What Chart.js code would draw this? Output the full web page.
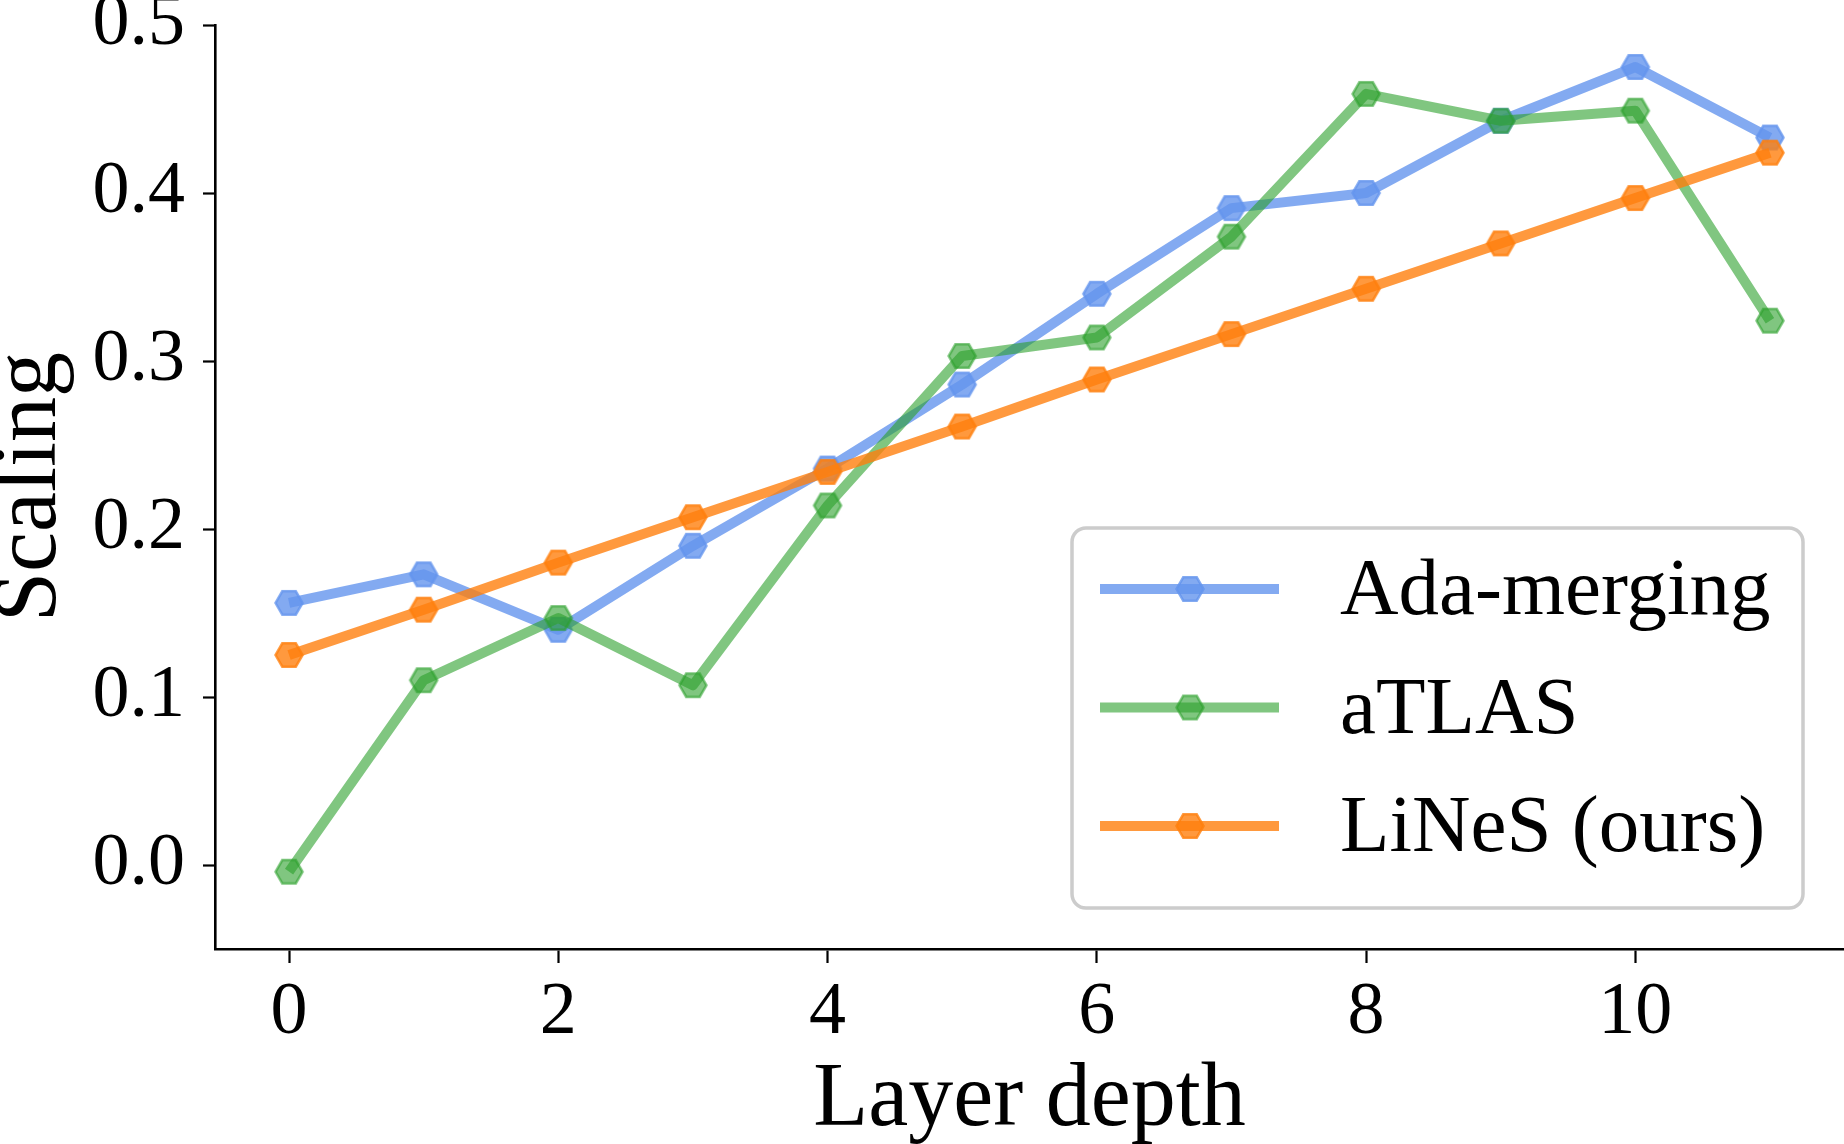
<!DOCTYPE html>
<html>
<head>
<meta charset="utf-8">
<style>
  html, body { margin: 0; padding: 0; background: #fff; overflow: hidden; }
  #c { display: block; }
</style>
<script src="https://cdn.jsdelivr.net/npm/chart.js@4/dist/chart.umd.min.js"></script>
</head>
<body>
<canvas id="c" width="1844" height="1144"></canvas>
<script>
// ---- data ----
const layers = [0, 1, 2, 3, 4, 5, 6, 7, 8, 9, 10, 11];
const adaMerging = [0.156, 0.173, 0.140, 0.190, 0.236, 0.286, 0.340, 0.391, 0.400, 0.443, 0.475, 0.433];
const atlas      = [-0.004, 0.110, 0.147, 0.107, 0.214, 0.303, 0.314, 0.374, 0.459, 0.443, 0.449, 0.324];
const lines      = [0.125, 0.152, 0.180, 0.207, 0.234, 0.261, 0.289, 0.316, 0.343, 0.370, 0.397, 0.424];
const seriesNames = ['Ada-merging', 'aTLAS', 'LiNeS (ours)'];
const xTickValues = [0, 2, 4, 6, 8, 10];
const yTickValues = [0.0, 0.1, 0.2, 0.3, 0.4, 0.5];
const xTitle = 'Layer depth';
const yTitle = 'Scaling';

const FONT = "'Liberation Serif', 'DejaVu Serif', serif";
Chart.defaults.font.family = FONT;
Chart.defaults.color = '#000';

const colors = [
  'rgba(100,149,237,0.8)',
  'rgba(44,160,44,0.6)',
  'rgba(255,127,14,0.8)'
];

function hexMarker(color) {
  const r = 13.5, lw = 2.5;
  const size = Math.ceil(2 * (r + lw) + 2);
  const c = document.createElement('canvas');
  c.width = size; c.height = size;
  const g = c.getContext('2d');
  g.translate(size / 2, size / 2);
  g.beginPath();
  for (let i = 0; i < 6; i++) {
    const a = i * Math.PI / 3;
    const px = r * Math.cos(a), py = r * Math.sin(a);
    if (i === 0) g.moveTo(px, py); else g.lineTo(px, py);
  }
  g.closePath();
  g.fillStyle = color;
  g.fill();
  g.lineWidth = lw;
  g.lineJoin = 'miter';
  g.strokeStyle = color;
  g.stroke();
  return c;
}
const markers = colors.map(hexMarker);

function toPoints(vals) { return layers.map((l, i) => ({ x: l, y: vals[i] })); }
const seriesValues = [adaMerging, atlas, lines];

const datasets = seriesValues.map((vals, i) => ({
  label: seriesNames[i],
  data: toPoints(vals),
  borderColor: colors[i],
  backgroundColor: colors[i],
  borderWidth: 10,
  borderJoinStyle: 'round',
  borderCapStyle: 'butt',
  tension: 0,
  fill: false,
  pointStyle: markers[i],
  pointRadius: 13,
  pointHoverRadius: 13,
  order: 3 - i
}));

const legendBox = {
  id: 'legendBox',
  afterDraw(chart) {
    const ctx = chart.ctx;
    const x0 = 1072, y0 = 528, x1 = 1803, y1 = 908, rr = 14;
    ctx.save();
    ctx.beginPath();
    ctx.moveTo(x0 + rr, y0);
    ctx.arcTo(x1, y0, x1, y1, rr);
    ctx.arcTo(x1, y1, x0, y1, rr);
    ctx.arcTo(x0, y1, x0, y0, rr);
    ctx.arcTo(x0, y0, x1, y0, rr);
    ctx.closePath();
    ctx.fillStyle = 'rgba(255,255,255,0.85)';
    ctx.fill();
    ctx.lineWidth = 3.5;
    ctx.strokeStyle = 'rgba(204,204,204,1)';
    ctx.stroke();
    const rows = [589, 707.5, 826];
    chart.data.datasets.forEach((ds, i) => {
      const y = rows[i];
      ctx.beginPath();
      ctx.moveTo(1100, y);
      ctx.lineTo(1279, y);
      ctx.lineWidth = ds.borderWidth;
      ctx.strokeStyle = ds.borderColor;
      ctx.stroke();
      const m = ds.pointStyle;
      ctx.drawImage(m, 1190 - m.width / 2, y - m.height / 2);
      ctx.fillStyle = '#000';
      ctx.font = '81px ' + FONT;
      ctx.textBaseline = 'middle';
      ctx.textAlign = 'left';
      ctx.fillText(ds.label, 1340, y + 4);
    });
    ctx.restore();
  }
};

new Chart(document.getElementById('c'), {
  type: 'line',
  data: { datasets },
  options: {
    responsive: false,
    animation: false,
    devicePixelRatio: 1,
    layout: { autoPadding: false, padding: { top: 25, right: 0, bottom: 0, left: 0 } },
    plugins: { legend: { display: false }, tooltip: { enabled: false } },
    scales: {
      x: {
        type: 'linear',
        min: -0.55,
        max: 11.55,
        afterBuildTicks: s => { s.ticks = xTickValues.map(v => ({ value: v })); },
        afterFit: s => { s.height = 195; s.paddingLeft = 0; s.paddingRight = 0; },
        ticks: { font: { size: 74 }, color: '#000', padding: 6, maxRotation: 0, autoSkip: false,
                 callback: v => String(v) },
        grid: { display: true, drawOnChartArea: false, drawTicks: true, tickLength: 14, tickWidth: 2.2, tickColor: '#000' },
        border: { display: true, color: '#000', width: 2.6 },
        title: { display: true, text: xTitle, color: '#000', font: { size: 90, lineHeight: 0.9 }, padding: { top: 0, bottom: 2 } }
      },
      y: {
        type: 'linear',
        min: -0.05,
        max: 0.5,
        afterBuildTicks: s => { s.ticks = yTickValues.map(v => ({ value: v })); },
        afterFit: s => { s.width = 215; s.paddingTop = 0; s.paddingBottom = 0; },
        ticks: { font: { size: 74 }, color: '#000', padding: 18, autoSkip: false,
                 callback: v => Number(v).toFixed(1) },
        grid: { display: true, drawOnChartArea: false, drawTicks: true, tickLength: 12, tickWidth: 2.2, tickColor: '#000' },
        border: { display: true, color: '#000', width: 2.6 },
        title: { display: true, text: yTitle, color: '#000', font: { size: 90, lineHeight: 0.7 }, padding: { top: 0, bottom: 0 } }
      }
    }
  },
  plugins: [legendBox]
});
</script>
</body>
</html>
